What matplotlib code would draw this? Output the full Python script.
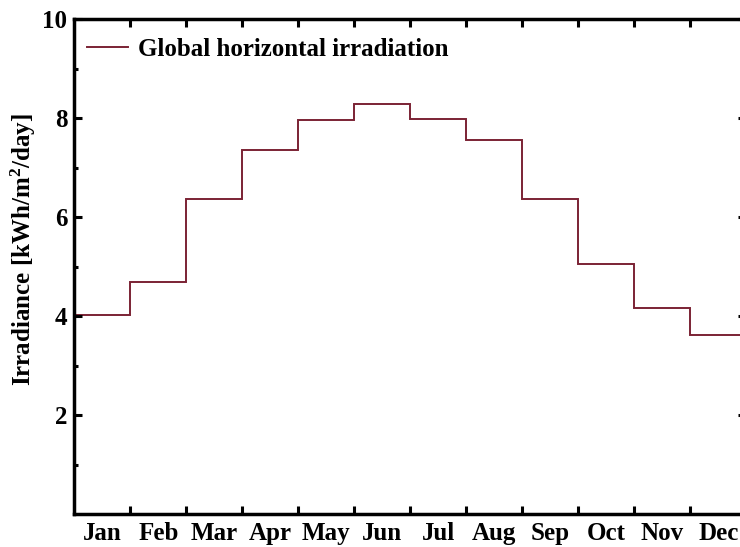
import matplotlib
matplotlib.use("Agg")
import matplotlib.pyplot as plt
import numpy as np

months = ["Jan", "Feb", "Mar", "Apr", "May", "Jun",
          "Jul", "Aug", "Sep", "Oct", "Nov", "Dec"]
ghi = [4.03, 4.69, 6.37, 7.36, 7.95, 8.29,
       7.97, 7.55, 6.37, 5.05, 4.16, 3.61]
yticks = [2, 4, 6, 8, 10]

plt.rcParams['font.family'] = ['Liberation Serif']
plt.rcParams['font.weight'] = 'bold'
plt.rcParams['mathtext.default'] = 'regular'

fig = plt.figure(figsize=(7.4, 5.47), dpi=100)
ax = fig.add_axes([74.3 / 740, 33 / 547, 672 / 740, 495 / 547])

edges = np.arange(len(months) + 1)
ax.stairs(ghi, edges, baseline=None, color='#7b2334', lw=1.4,
          label='Global horizontal irradiation')

ax.set_xlim(0, 12)
ax.set_ylim(0, 10)
ax.set_xticks(edges[1:-1])
ax.set_xticklabels([])
ax.set_xticks(edges[:-1] + 0.5, minor=True)
ax.set_xticklabels(months, minor=True, fontsize=18, fontweight='bold')
ax.set_yticks(yticks)
ax.set_yticklabels([str(v) for v in yticks], fontsize=18, fontweight='bold')
ax.set_yticks([1, 3, 5, 7, 9], minor=True)

ax.tick_params(which='major', direction='in', length=6, width=2.2,
               top=True, right=True)
ax.tick_params(axis='y', which='minor', direction='in', length=3, width=2.2,
               right=True)
ax.tick_params(axis='x', which='minor', length=0, pad=6)
ax.tick_params(axis='y', which='major', pad=5)
for s in ax.spines.values():
    s.set_linewidth(2.5)

ax.set_ylabel('Irradiance [kWh/m$^2$/day]', fontsize=18, fontweight='bold')
ax.yaxis.set_label_coords(-0.054, 0.535)

ax.legend(loc='upper left', frameon=False, handlelength=1.65,
          handletextpad=0.38, borderaxespad=0, borderpad=0,
          bbox_to_anchor=(0.019, 0.962),
          prop={'weight': 'bold', 'size': 18})

fig.savefig('out.png', dpi=100)
